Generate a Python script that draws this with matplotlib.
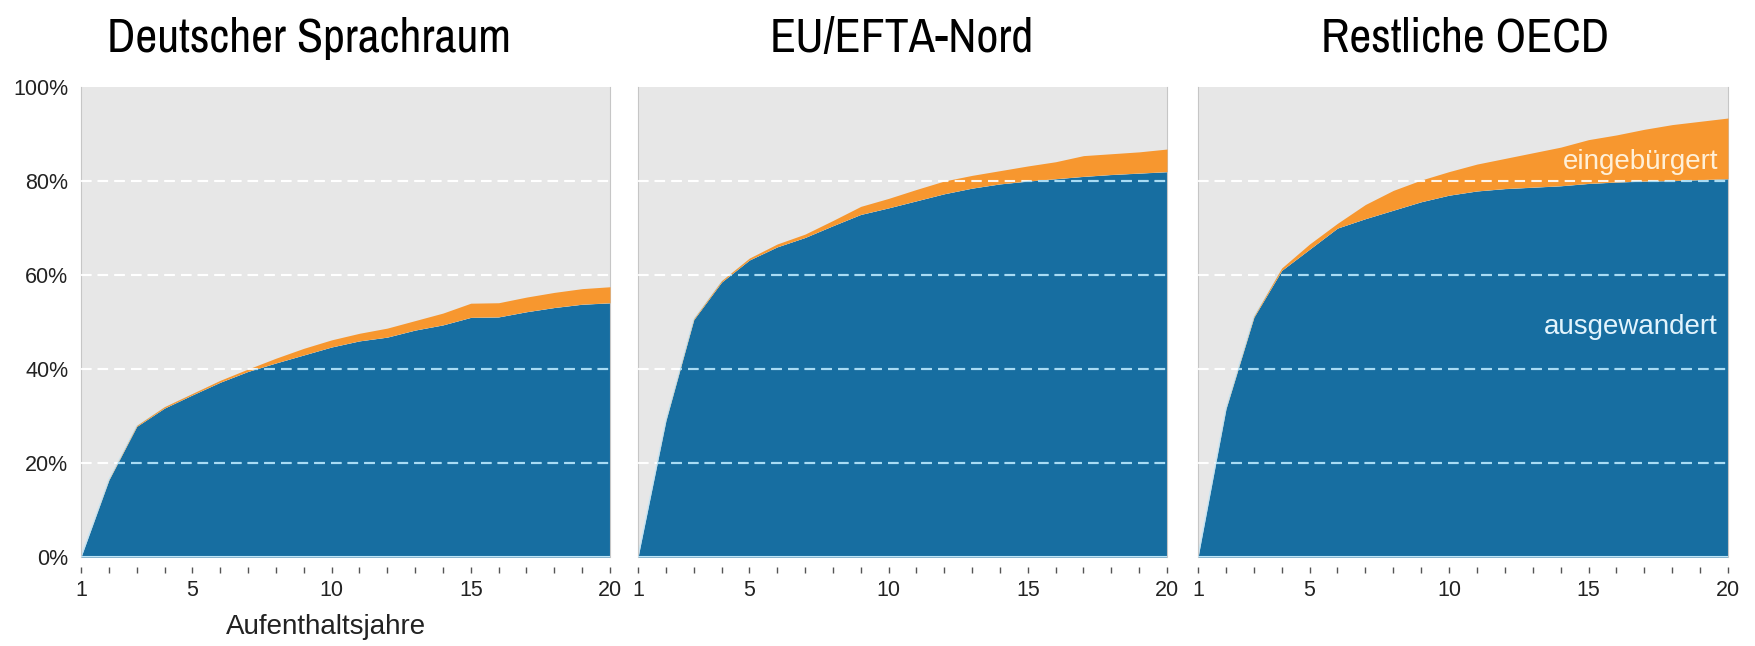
import matplotlib
matplotlib.use("Agg")
import matplotlib.pyplot as plt
from matplotlib import font_manager as fm
from matplotlib.font_manager import FontProperties

years = list(range(1, 21))

titles = ["Deutscher Sprachraum", "EU/EFTA-Nord", "Restliche OECD"]

# share emigrated (ausgewandert), in %
dsr_ausgewandert = [0, 16.4, 27.8, 31.7, 34.5, 37.2, 39.5, 41.3, 43.0, 44.7, 46.0, 46.8, 48.3, 49.4, 51.0, 51.1, 52.2, 53.1, 53.8, 54.1]
# cumulative total (ausgewandert + eingebürgert), in %
dsr_total = [0, 16.5, 28.0, 32.0, 34.8, 37.6, 40.0, 42.3, 44.4, 46.2, 47.6, 48.7, 50.3, 51.9, 54.0, 54.1, 55.3, 56.3, 57.1, 57.5]

nord_ausgewandert = [0, 29.0, 50.5, 58.5, 63.2, 66.0, 68.0, 70.5, 72.9, 74.3, 75.8, 77.3, 78.5, 79.4, 80.0, 80.5, 81.0, 81.4, 81.7, 82.0]
nord_total = [0, 29.1, 50.7, 58.8, 63.6, 66.6, 68.7, 71.6, 74.6, 76.3, 78.2, 80.0, 81.2, 82.2, 83.2, 84.1, 85.4, 85.8, 86.2, 86.8]

oecd_ausgewandert = [0, 31.5, 51.0, 61.0, 65.5, 70.0, 72.0, 73.8, 75.6, 77.0, 77.9, 78.4, 78.7, 79.0, 79.5, 79.8, 80.0, 80.1, 80.3, 80.5]
oecd_total = [0, 31.6, 51.2, 61.5, 66.6, 71.0, 75.0, 78.0, 80.2, 82.0, 83.6, 84.8, 86.0, 87.2, 88.8, 89.8, 91.0, 92.0, 92.7, 93.4]

series = [(dsr_ausgewandert, dsr_total), (nord_ausgewandert, nord_total), (oecd_ausgewandert, oecd_total)]

y_ticks = [0, 20, 40, 60, 80, 100]
y_ticklabels = ["0%", "20%", "40%", "60%", "80%", "100%"]
x_ticks_major = [1, 5, 10, 15, 20]

label_ausgewandert = "ausgewandert"
label_eingebuergert = "eingebürgert"
xlabel = "Aufenthaltsjahre"

BLUE = "#176ea1"
ORANGE = "#f7972f"
BG = "#e7e7e7"
GRID_ON_BLUE = "#a8dcf5"
TEXT = "#222222"

# pick a condensed font for the titles if one is installed
def find_narrow():
    prefs = []
    for f in fm.fontManager.ttflist:
        nm = f.name.lower()
        st = str(f.stretch).lower()
        if f.weight not in (400, "normal", "regular") or str(f.style) != "normal":
            continue
        if "liberation sans narrow" in nm:
            prefs.append((0, f.fname))
        elif "condensed" in nm or "narrow" in nm:
            prefs.append((1, f.fname))
        elif "condensed" in st or "narrow" in st:
            prefs.append((2, f.fname))
    prefs.sort()
    return prefs[0][1] if prefs else None

narrow_path = find_narrow()
if narrow_path:
    title_fp = FontProperties(fname=narrow_path, size=34.5)
else:
    title_fp = FontProperties(family=["Liberation Sans", "DejaVu Sans"], size=28)

W, H = 1756, 646
fig = plt.figure(figsize=(W / 100, H / 100), dpi=100)
plt.rcParams["font.family"] = ["Liberation Sans", "DejaVu Sans"]

panel_px = [(81, 610), (638, 1167), (1198, 1728)]
top_px, bot_px = 87, 557
title_cx = [309, 902, 1465]

for i, ((x0, x1), (blue, total), title) in enumerate(zip(panel_px, series, titles)):
    ax = fig.add_axes([x0 / W, 1 - bot_px / H, (x1 - x0) / W, (bot_px - top_px) / H])
    ax.set_facecolor(BG)
    ax.set_xlim(1, 20)
    ax.set_ylim(0, 100)

    for gy in [20, 40, 60, 80]:
        ax.axhline(gy, color="white", lw=1.5, ls=(0, (5, 3)), zorder=1)

    poly = ax.fill_between(years, 0, blue, color=BLUE, lw=0, zorder=2)
    ax.plot(years, blue, color="#c3e4f5", lw=1.0, zorder=2.1)
    ax.fill_between(years, blue, total, color=ORANGE, lw=0, zorder=3)

    path = poly.get_paths()[0]
    for gy in [20, 40, 60, 80]:
        ax.axhline(gy, color="white", lw=1.5, ls=(0, (5, 3)), zorder=4, alpha=0.9)
        ln2 = ax.axhline(gy, color=GRID_ON_BLUE, lw=1.5, ls=(0, (5, 3)), zorder=5)
        ln2.set_clip_path(path, transform=ax.transData)

    ax.axhline(0, color="#bfe6f8", lw=1.5, zorder=6)

    for s in ["top", "bottom"]:
        ax.spines[s].set_visible(False)
    for s in ["left", "right"]:
        ax.spines[s].set_color("#c6c6c6")
        ax.spines[s].set_linewidth(0.8)
    ax.spines["bottom"].set_position(("outward", 7))

    ax.set_xticks(x_ticks_major)
    ax.set_xticks(years, minor=True)
    ax.tick_params(axis="x", which="both", direction="out", length=4.5, width=1,
                   color="#555555", labelsize=15.5, labelcolor=TEXT, pad=5)

    if i == 0:
        ax.set_yticks(y_ticks)
        ax.set_yticklabels(y_ticklabels)
        ax.tick_params(axis="y", length=0, labelsize=15.5, labelcolor=TEXT, pad=9)
    else:
        ax.set_yticks([])

    fig.text(title_cx[i] / W, 1 - 52 / H, title, ha="center", va="baseline",
             fontproperties=title_fp, color="black")

    if i == 2:
        ax.text(19.64, 84, label_eingebuergert, ha="right", va="center",
                fontsize=20, color="#fff0d8", zorder=7)
        ax.text(19.64, 49, label_ausgewandert, ha="right", va="center",
                fontsize=20, color="#e2f4fd", zorder=7)

fig.text(326 / W, 1 - 627 / H, xlabel, ha="center", va="center", fontsize=20, color=TEXT)

fig.savefig("out.png", dpi=100)
